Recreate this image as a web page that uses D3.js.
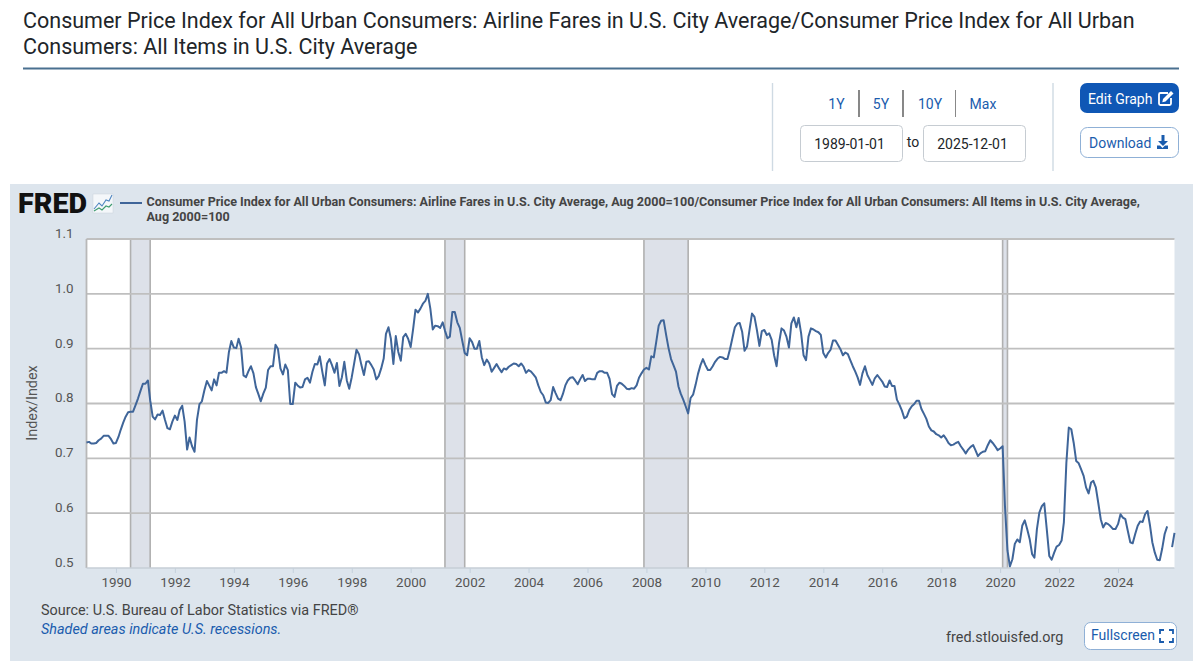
<!DOCTYPE html>
<html>
<head>
<meta charset="utf-8">
<script src="https://cdn.jsdelivr.net/npm/d3@7"></script>
<style>
  html, body { margin: 0; padding: 0; background: #fff; overflow: hidden; }
  text { font-family: Roboto, sans-serif; }
  .axis path { display: none; }
  .axis text { font-family: Roboto, sans-serif; font-size: 13.4px; fill: #555; }
</style>
</head>
<body>
<svg id="chart" width="1200" height="669"></svg>
<script>
var startYear = 1989;

// ratio per month, one row per year; Oct 2025 has no observation
var ratio = [
  .729, .730, .727, .727, .728, .733, .736, .741, .741, .741, .735, .727,
  .728, .739, .752, .765, .776, .784, .785, .785, .797, .809, .823, .836,
  .836, .842, .806, .776, .771, .780, .779, .787, .770, .755, .753, .767,
  .778, .770, .788, .796, .767, .716, .738, .722, .712, .770, .799, .804,
  .824, .841, .833, .824, .844, .833, .856, .856, .859, .856, .894, .914,
  .902, .901, .918, .902, .851, .848, .859, .868, .855, .830, .817, .804,
  .818, .829, .861, .868, .868, .907, .900, .864, .853, .871, .861, .799,
  .799, .838, .833, .829, .830, .844, .847, .838, .858, .872, .871, .886,
  .858, .833, .873, .881, .870, .856, .874, .832, .848, .876, .842, .827,
  .848, .874, .898, .890, .870, .852, .876, .877, .870, .862, .844, .850,
  .864, .882, .927, .939, .918, .872, .923, .894, .878, .921, .927, .918,
  .903, .936, .971, .966, .973, .982, .987, 1.000, .973, .935, .942, .941,
  .938, .948, .933, .919, .922, .967, .967, .948, .938, .915, .892, .888,
  .919, .912, .900, .900, .914, .884, .870, .880, .873, .858, .865, .872,
  .864, .857, .864, .862, .867, .870, .873, .872, .868, .873, .867, .856,
  .861, .858, .853, .847, .833, .821, .815, .802, .801, .806, .830, .819,
  .809, .806, .817, .833, .842, .847, .848, .842, .835, .844, .852, .841,
  .845, .845, .844, .844, .856, .859, .859, .856, .856, .845, .817, .812,
  .832, .838, .836, .832, .827, .826, .828, .827, .833, .847, .855, .862,
  .865, .862, .886, .884, .912, .942, .951, .952, .925, .901, .881, .870,
  .858, .831, .818, .807, .795, .782, .810, .816, .834, .854, .870, .881,
  .870, .861, .861, .868, .876, .882, .885, .884, .881, .881, .899, .919,
  .939, .946, .947, .931, .896, .904, .934, .964, .958, .934, .905, .932,
  .934, .925, .928, .916, .888, .868, .910, .937, .933, .922, .902, .946,
  .957, .939, .956, .928, .888, .879, .922, .937, .935, .932, .930, .925,
  .892, .884, .892, .898, .915, .915, .907, .899, .888, .893, .890, .879,
  .868, .858, .848, .834, .855, .868, .852, .843, .834, .846, .852, .846,
  .840, .831, .830, .842, .832, .832, .807, .798, .787, .773, .776, .788,
  .795, .799, .805, .805, .790, .781, .772, .758, .751, .749, .744, .742,
  .738, .742, .736, .728, .724, .725, .728, .730, .722, .716, .709, .716,
  .721, .724, .715, .704, .709, .712, .713, .724, .733, .728, .722, .715,
  .718, .722, .613, .532, .503, .516, .544, .552, .547, .577, .587, .571,
  .553, .525, .519, .571, .601, .613, .618, .571, .522, .515, .528, .539,
  .542, .550, .583, .692, .756, .753, .728, .695, .691, .680, .668, .647,
  .636, .656, .659, .647, .619, .589, .574, .582, .580, .576, .571, .571,
  .580, .598, .592, .589, .568, .547, .545, .562, .577, .585, .584, .598,
  .604, .577, .547, .528, .515, .514, .535, .562, .576, null, .538, .564
];

var recessions = [
  ["1990-07-01", "1991-03-01"],
  ["2001-03-01", "2001-11-01"],
  ["2007-12-01", "2009-06-01"],
  ["2020-02-01", "2020-04-01"]
];

var yTicks = [0.5, 0.6, 0.7, 0.8, 0.9, 1.0, 1.1];
var rangeLabels = ["1Y", "5Y", "10Y", "Max"];
var titleLines = [
  "Consumer Price Index for All Urban Consumers: Airline Fares in U.S. City Average/Consumer Price Index for All Urban",
  "Consumers: All Items in U.S. City Average"
];
var legendLines = [
  "Consumer Price Index for All Urban Consumers: Airline Fares in U.S. City Average, Aug 2000=100/Consumer Price Index for All Urban Consumers: All Items in U.S. City Average,",
  "Aug 2000=100"
];

var series = ratio.map(function(v, i) {
  return { date: new Date(Date.UTC(startYear, i, 1)), value: v };
});

var svg = d3.select("#chart");
var plot = { left: 86.5, right: 1174.5, top: 239, bottom: 568 };

var x = d3.scaleUtc()
  .domain(d3.extent(series, function(d) { return d.date; }))
  .range([plot.left, plot.right]);

var y = d3.scaleLinear()
  .domain([0.5, 1.1])
  .range([plot.bottom, plot.top]);

// ****************** page header ***************************

svg.selectAll("text.title")
  .data(titleLines)
  .enter().append("text")
  .attr("class", "title")
  .attr("x", 23)
  .attr("y", function(d, i) { return 28 + i * 25.5; })
  .attr("font-size", 21.5)
  .attr("fill", "#212529")
  .text(function(d) { return d; });

svg.append("rect").attr("x", 23).attr("y", 67.5).attr("width", 1156).attr("height", 2).attr("fill", "#4a7090");

// ****************** controls ***************************

[772.5, 1053].forEach(function(px) {
  svg.append("line").attr("x1", px).attr("x2", px).attr("y1", 83).attr("y2", 171)
    .attr("stroke", "#cfdae3").attr("stroke-width", 1.4);
});

var rangeX = [836.5, 881, 930, 983];
rangeLabels.forEach(function(label, i) {
  svg.append("text").attr("x", rangeX[i]).attr("y", 109).attr("text-anchor", "middle")
    .attr("font-size", 14).attr("fill", "#1a5cad").text(label);
});

[[859, "#555", 1.4, 90, 117], [903, "#555", 1.4, 90, 117], [955.5, "#888", 1, 90, 117]].forEach(function(s) {
  svg.append("line").attr("x1", s[0]).attr("x2", s[0]).attr("y1", s[3]).attr("y2", s[4])
    .attr("stroke", s[1]).attr("stroke-width", s[2]);
});

[[800, "1989-01-01"], [923, "2025-12-01"]].forEach(function(d) {
  svg.append("rect").attr("x", d[0] + .5).attr("y", 125.5).attr("width", 102).attr("height", 36).attr("rx", 4)
    .attr("fill", "#fff").attr("stroke", "#c6ccd2");
  svg.append("text").attr("x", d[0] + 49.5).attr("y", 149).attr("text-anchor", "middle")
    .attr("font-size", 14).attr("fill", "#212529").text(d[1]);
});
svg.append("text").attr("x", 913).attr("y", 147).attr("text-anchor", "middle")
  .attr("font-size", 14).attr("fill", "#212529").text("to");

svg.append("rect").attr("x", 1080).attr("y", 83).attr("width", 99).attr("height", 30).attr("rx", 7).attr("fill", "#0f57b5");
svg.append("text").attr("x", 1088).attr("y", 103.5).attr("font-size", 14).attr("fill", "#fff").text("Edit Graph");
// edit icon
svg.append("path").attr("d", "M1168 93h-7.5a1.5 1.5 0 0 0-1.5 1.5v9a1.5 1.5 0 0 0 1.5 1.5h9a1.5 1.5 0 0 0 1.5-1.5V98")
  .attr("fill", "none").attr("stroke", "#fff").attr("stroke-width", 1.8);
svg.append("path").attr("d", "M1163 99l8-8 2.5 2.5-8 8-3.2.7z").attr("fill", "#fff");

svg.append("rect").attr("x", 1080.5).attr("y", 127.5).attr("width", 98).attr("height", 30).attr("rx", 7)
  .attr("fill", "#fff").attr("stroke", "#8fb0d6");
svg.append("text").attr("x", 1089).attr("y", 147.5).attr("font-size", 14).attr("fill", "#1a5cad").text("Download");
// download icon
svg.append("path").attr("d", "M1161.5 135h3v6h3.5l-5 5-5-5h3.5zM1157 145.5h3l2.5 2.5 2.5-2.5h3v3.5h-11z").attr("fill", "#1a5cad");

// ****************** chart panel ***************************

svg.append("rect").attr("x", 10).attr("y", 184).attr("width", 1183).attr("height", 477).attr("fill", "#dde5ed");
svg.append("rect").attr("x", plot.left).attr("y", plot.top).attr("width", plot.right - plot.left).attr("height", plot.bottom - plot.top)
  .attr("fill", "#fff");

svg.append("text").attr("x", 18).attr("y", 213).attr("font-size", 28).attr("font-weight", 900)
  .attr("textLength", 69).attr("lengthAdjust", "spacingAndGlyphs").attr("fill", "#111").text("FRED");

// little chart logo
svg.append("rect").attr("x", 93).attr("y", 194).attr("width", 20).attr("height", 19).attr("fill", "#f4f7fa").attr("stroke", "#c9d3dc").attr("stroke-width", .5);
svg.append("path").attr("d", "M94 209l5-6 3 3 4-6 3 1 3-6").attr("fill", "none").attr("stroke", "#4f86c0").attr("stroke-width", 1.1);
svg.append("path").attr("d", "M94 211l5-3 3 2 4-4 3 1 3-3").attr("fill", "none").attr("stroke", "#3f9c70").attr("stroke-width", 1.1);

svg.append("line").attr("x1", 120).attr("x2", 142).attr("y1", 203).attr("y2", 203).attr("stroke", "#3f6599").attr("stroke-width", 2);

svg.selectAll("text.legend")
  .data(legendLines)
  .enter().append("text")
  .attr("class", "legend")
  .attr("x", 146.5)
  .attr("y", function(d, i) { return 206 + i * 15; })
  .attr("font-size", 12.56)
  .attr("font-weight", 700)
  .attr("fill", "#444")
  .text(function(d) { return d; });

// recession bands
var bands = svg.append("g").selectAll("g")
  .data(recessions)
  .enter().append("g");

bands.append("rect")
  .attr("x", function(d) { return x(new Date(d[0])); })
  .attr("y", plot.top)
  .attr("width", function(d) { return x(new Date(d[1])) - x(new Date(d[0])); })
  .attr("height", plot.bottom - plot.top)
  .attr("fill", "#dde1e9");

// gridlines from the y scale
svg.append("g").selectAll("line")
  .data(yTicks.slice(1))
  .enter().append("line")
  .attr("x1", plot.left)
  .attr("x2", plot.right)
  .attr("y1", function(d) { return y(d); })
  .attr("y2", function(d) { return y(d); })
  .attr("stroke", "#bfbfbf")
  .attr("stroke-width", 1.9);

bands.selectAll("line")
  .data(function(d) { return d; })
  .enter().append("line")
  .attr("x1", function(d) { return x(new Date(d)); })
  .attr("x2", function(d) { return x(new Date(d)); })
  .attr("y1", plot.top)
  .attr("y2", plot.bottom)
  .attr("stroke", "#b0b0b0")
  .attr("stroke-width", 1.6);

// left and bottom edges of the plot
svg.append("line").attr("x1", plot.left).attr("x2", plot.left).attr("y1", plot.top).attr("y2", plot.bottom)
  .attr("stroke", "#b8b8b8").attr("stroke-width", 1.8);
svg.append("line").attr("x1", plot.left).attr("x2", plot.right).attr("y1", plot.bottom).attr("y2", plot.bottom)
  .attr("stroke", "#c6ced6").attr("stroke-width", 1.4);

var line = d3.line()
  .defined(function(d) { return d.value !== null; })
  .x(function(d) { return x(d.date); })
  .y(function(d) { return y(d.value); });

svg.append("path")
  .datum(series)
  .attr("fill", "none")
  .attr("stroke", "#3f6599")
  .attr("stroke-width", 2)
  .attr("stroke-linejoin", "round")
  .attr("d", line);

// axes
var xAxis = svg.append("g")
  .attr("class", "axis")
  .attr("transform", "translate(0," + plot.bottom + ")")
  .call(d3.axisBottom(x)
    .ticks(d3.utcYear.filter(function(d) { return d.getUTCFullYear() % 2 === 0; }))
    .tickFormat(d3.utcFormat("%Y"))
    .tickSize(5)
    .tickPadding(4));
xAxis.selectAll("line").attr("stroke", "#c4d0dc");

var yAxis = svg.append("g")
  .attr("class", "axis")
  .attr("transform", "translate(" + plot.left + ",0)")
  .call(d3.axisLeft(y)
    .tickValues(yTicks)
    .tickFormat(d3.format(".1f"))
    .tickSize(0)
    .tickPadding(13));
yAxis.selectAll("text").attr("dy", "-0.12em");

svg.append("text")
  .attr("transform", "translate(37,403) rotate(-90)")
  .attr("text-anchor", "middle")
  .attr("font-size", 14.4)
  .attr("fill", "#555")
  .text("Index/Index");

// ****************** footer ***************************

svg.append("text").attr("x", 41).attr("y", 615).attr("font-size", 14.4).attr("fill", "#444")
  .text("Source: U.S. Bureau of Labor Statistics via FRED\u00AE");
svg.append("text").attr("x", 41).attr("y", 634).attr("font-size", 14.4).attr("font-style", "italic").attr("fill", "#1a5cad")
  .text("Shaded areas indicate U.S. recessions.");
svg.append("text").attr("x", 946).attr("y", 642).attr("font-size", 14.4).attr("fill", "#444")
  .text("fred.stlouisfed.org");

svg.append("rect").attr("x", 1084.5).attr("y", 622.5).attr("width", 92).attr("height", 27).attr("rx", 6)
  .attr("fill", "#fff").attr("stroke", "#8fb0d6");
svg.append("text").attr("x", 1091).attr("y", 640).attr("font-size", 14).attr("fill", "#1a5cad").text("Fullscreen");
svg.append("path")
  .attr("d", "M1160 634v-4h4M1169 630h4v4M1173 638v4h-4M1164 642h-4v-4")
  .attr("fill", "none").attr("stroke", "#1a5cad").attr("stroke-width", 1.8);
</script>
</body>
</html>
